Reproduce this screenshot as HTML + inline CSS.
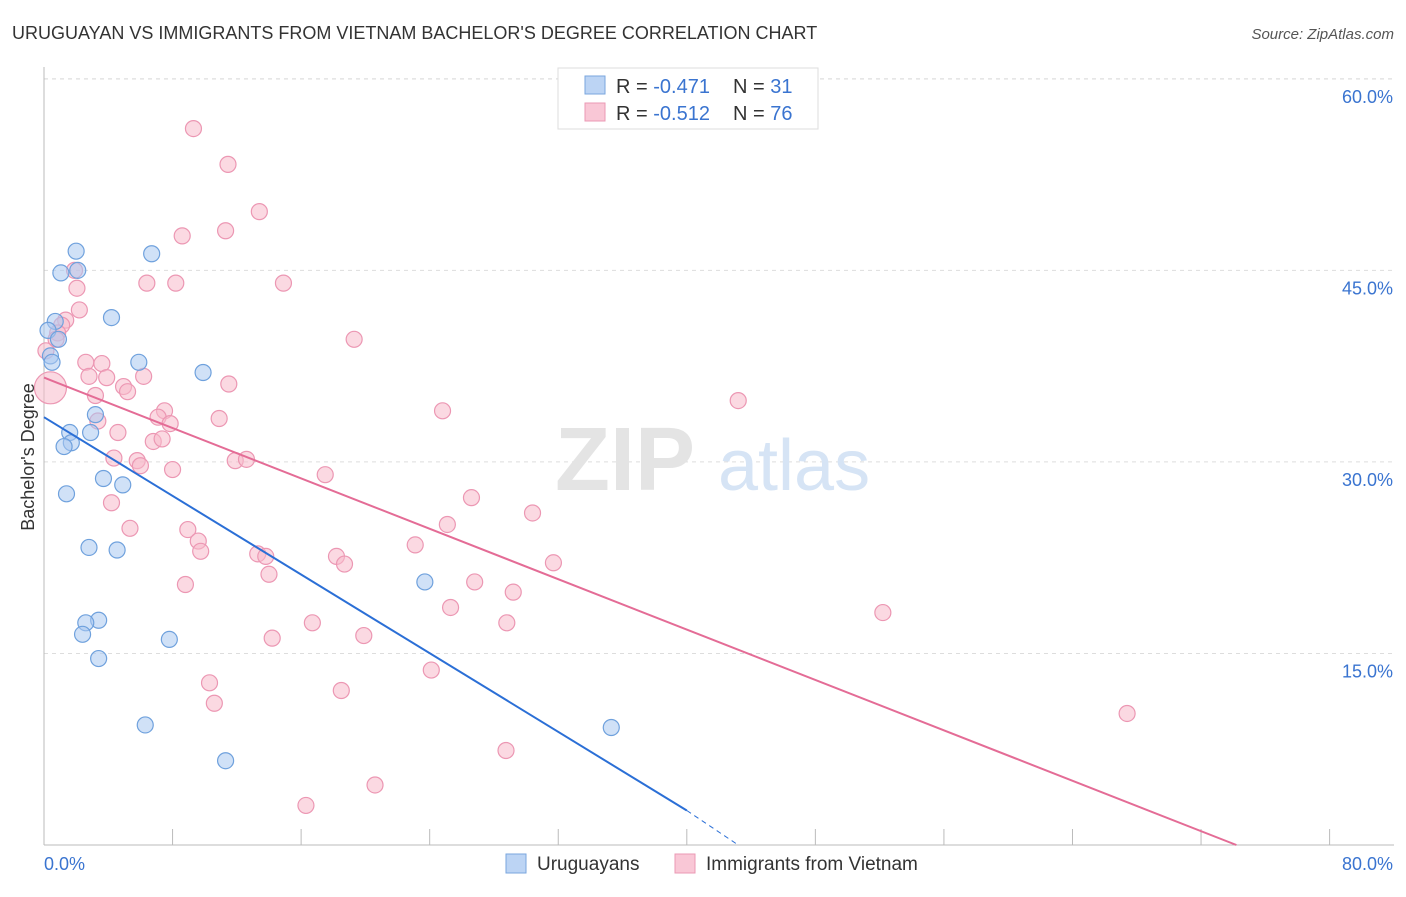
<!DOCTYPE html>
<html><head><meta charset="utf-8">
<style>
body{margin:0;background:#fff;font-family:"Liberation Sans",sans-serif;}
svg text{font-family:"Liberation Sans",sans-serif;}
</style></head>
<body>
<svg id="chart" width="1406" height="892" xmlns="http://www.w3.org/2000/svg">
<text x="12" y="39" font-size="18" fill="#333">URUGUAYAN VS IMMIGRANTS FROM VIETNAM BACHELOR'S DEGREE CORRELATION CHART</text>
<text x="1394" y="39" font-size="15" fill="#555" text-anchor="end" font-style="italic">Source: ZipAtlas.com</text>
<g id="grid"></g>
<g>
<text x="555" y="490" font-size="90" fill="#e4e4e4" font-family="Liberation Serif" font-weight="bold">ZIP</text>
<text x="718" y="490" font-size="72" fill="#d6e4f5">atlas</text>
</g>
<g id="axes"></g>
<g id="marks"></g>
<g id="lines"></g>
<text transform="translate(34,457) rotate(-90)" font-size="18" fill="#333" text-anchor="middle">Bachelor's Degree</text>
<g>
<rect x="558" y="68" width="260" height="61" fill="#fff" stroke="#ddd"/>
<rect x="585" y="76" width="20" height="18" fill="#bcd4f4" stroke="#7aa6de"/>
<rect x="585" y="103" width="20" height="18" fill="#f9c7d6" stroke="#eb9ab4"/>
<text x="616" y="93" font-size="20" fill="#333">R = <tspan fill="#3a74d0">-0.471</tspan></text>
<text x="733" y="93" font-size="20" fill="#333">N = <tspan fill="#3a74d0">31</tspan></text>
<text x="616" y="120" font-size="20" fill="#333">R = <tspan fill="#3a74d0">-0.512</tspan></text>
<text x="733" y="120" font-size="20" fill="#333">N = <tspan fill="#3a74d0">76</tspan></text>
</g>
<g>
<rect x="506" y="854" width="20" height="19" fill="#bcd4f4" stroke="#7aa6de"/>
<text x="537" y="870" font-size="19" fill="#333">Uruguayans</text>
<rect x="675" y="854" width="20" height="19" fill="#f9c7d6" stroke="#eb9ab4"/>
<text x="706" y="870" font-size="19" fill="#333">Immigrants from Vietnam</text>
</g>
</svg>
<script>
const xTicks=[0,8,16,24,32,40,48,56,64,72,80];
const yTicks=[15,30,45,60];
const yTickLabels=["15.0%","30.0%","45.0%","60.0%"];
const blueX=[2.0,2.1,1.05,6.7,4.2,0.7,0.25,0.9,0.4,0.5,5.9,9.9,3.2,1.6,2.9,1.7,1.25,3.7,4.9,1.4,2.8,4.55,23.7,3.4,2.6,2.4,7.8,3.4,6.3,35.3,11.3];
const blueY=[46.5,45.0,44.8,46.3,41.3,41.0,40.3,39.6,38.3,37.8,37.8,37.0,33.7,32.3,32.3,31.5,31.2,28.7,28.2,27.5,23.3,23.1,20.6,17.6,17.4,16.5,16.1,14.6,9.4,9.2,6.6];
const pinkX=[9.3,11.45,13.4,8.6,11.3,1.9,6.4,8.2,14.9,2.05,2.2,1.35,1.1,0.85,0.75,19.3,0.12,2.6,3.6,6.2,2.8,3.9,11.5,4.95,5.2,3.2,43.2,24.8,7.5,7.1,10.9,7.85,3.35,4.6,6.8,7.35,4.35,5.8,6.0,11.9,12.6,8.0,17.5,26.6,4.2,30.4,5.35,25.1,8.95,9.6,9.75,23.1,13.3,13.8,18.2,18.7,31.7,14.0,8.8,26.8,29.2,25.3,52.2,16.7,28.8,19.9,14.2,24.1,10.3,10.6,18.5,67.4,28.75,20.6,16.3,0.4];
const pinkY=[56.1,53.3,49.6,47.7,48.1,45.0,44.0,44.0,44.0,43.6,41.9,41.1,40.7,40.1,39.6,39.6,38.7,37.8,37.7,36.7,36.7,36.6,36.1,35.9,35.5,35.2,34.8,34.0,34.0,33.5,33.4,33.0,33.2,32.3,31.6,31.8,30.3,30.1,29.7,30.1,30.2,29.4,29.0,27.2,26.8,26.0,24.8,25.1,24.7,23.8,23.0,23.5,22.8,22.6,22.6,22.0,22.1,21.2,20.4,20.6,19.8,18.6,18.2,17.4,17.4,16.4,16.2,13.7,12.7,11.1,12.1,10.3,7.4,4.7,3.1,35.8];
const blueLine=[[0,33.5],[40,2.7]];
const blueDash=[[40,2.7],[43.2,0]];
const pinkLine=[[0,36.6],[74.2,0]];
const X0=44,XS=16.07,Y0=845,YS=12.77;
const sx=v=>X0+v*XS, sy=v=>Y0-v*YS;
const NS="http://www.w3.org/2000/svg";
function mk(tag,attrs,parent){const e=document.createElementNS(NS,tag);for(const k in attrs)e.setAttribute(k,attrs[k]);document.getElementById(parent).appendChild(e);return e;}
yTicks.forEach((t,i)=>{
 const g=mk('line',{x1:44,x2:1394,y1:sy(t),y2:sy(t),stroke:'#ddd','stroke-dasharray':'4,4'},'grid');
 
 
 const l=mk('text',{x:1393,y:sy(t)+24,'font-size':18,fill:'#3a74d0','text-anchor':'end'},'axes');
 l.textContent=yTickLabels[i];
 
 
});
mk('line',{x1:44,x2:44,y1:67,y2:845,stroke:'#bbb'},'axes');
mk('line',{x1:44,x2:1394,y1:845,y2:845,stroke:'#bbb'},'axes');
xTicks.forEach(t=>{
 const e=mk('line',{x1:sx(t),x2:sx(t),y1:829,y2:845,stroke:'#bbb'},'axes');
 
 
});
const xl0=mk('text',{x:44,y:870,'font-size':18,fill:'#3a74d0'},'axes');xl0.textContent='0.0%';

const xl1=mk('text',{x:1393,y:870,'font-size':18,fill:'#3a74d0','text-anchor':'end'},'axes');xl1.textContent='80.0%';

pinkX.forEach((x,i)=>{
 const c=mk('circle',{cx:sx(x),cy:sy(pinkY[i]),r:i==pinkX.length-1?16:8,fill:'#f7b9cb','fill-opacity':0.55,stroke:'#ec97b3','stroke-width':1.2},'marks');
 
 
});
blueX.forEach((x,i)=>{
 const c=mk('circle',{cx:sx(x),cy:sy(blueY[i]),r:8,fill:'#a9c8f0','fill-opacity':0.55,stroke:'#6fa1dd','stroke-width':1.2},'marks');
 
 
});
const bl=mk('line',{x1:sx(blueLine[0][0]),y1:sy(blueLine[0][1]),x2:sx(blueLine[1][0]),y2:sy(blueLine[1][1]),stroke:'#2b6fd6','stroke-width':2},'lines');


const bd=mk('line',{x1:sx(blueDash[0][0]),y1:sy(blueDash[0][1]),x2:sx(blueDash[1][0]),y2:sy(blueDash[1][1]),stroke:'#2b6fd6','stroke-width':1,'stroke-dasharray':'5,4'},'lines');


const pl=mk('line',{x1:sx(pinkLine[0][0]),y1:sy(pinkLine[0][1]),x2:sx(pinkLine[1][0]),y2:sy(pinkLine[1][1]),stroke:'#e46c96','stroke-width':2},'lines');


const topGrid=mk('line',{x1:44,x2:1394,y1:79,y2:79,stroke:'#ddd','stroke-dasharray':'4,4'},'grid');


</script>
</body></html>
